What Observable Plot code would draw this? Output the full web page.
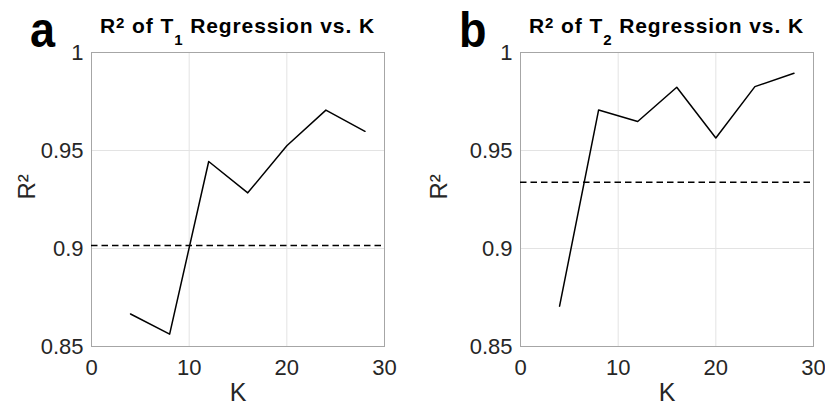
<!DOCTYPE html>
<html>
<head>
<meta charset="utf-8">
<script src="https://cdn.jsdelivr.net/npm/d3@7"></script>
<script src="https://cdn.jsdelivr.net/npm/@observablehq/plot@0.6"></script>
<style>
  html, body { margin: 0; padding: 0; background: #fff; }
  #wrap { position: relative; width: 825px; height: 407px; font-family: "Liberation Sans", Arial, sans-serif; color: #262626; }
  .panel { position: absolute; top: 0; width: 412px; height: 407px; }
  .header { position: relative; height: 40px; }
  .letter { position: absolute; top: 1px; font-size: 50px; font-weight: bold; color: #000; line-height: 58px; transform: scaleX(0.9); transform-origin: left; }
  .title { position: absolute; top: 15px; font-size: 21px; letter-spacing: 0.9px; font-weight: bold; color: #000; text-align: center; line-height: 21px; white-space: nowrap; }
  .title sup { font-size: 15px; vertical-align: 5px; line-height: 0; }
  .title sub { font-size: 15px; vertical-align: -12px; line-height: 0; }
  svg { display: block; }
</style>
</head>
<body>
<div id="wrap"></div>
<script>
// ---- data ----
const kValues = [4, 8, 12, 16, 20, 24, 28];
const r2T1 = [0.8666, 0.8563, 0.9444, 0.9284, 0.9524, 0.9706, 0.9598];
const r2T2 = [0.8706, 0.9707, 0.9648, 0.9823, 0.9564, 0.9826, 0.9894];
const baselineT1 = 0.9015;
const baselineT2 = 0.9338;
const xTicks = [0, 10, 20, 30];
const yTicks = [0.85, 0.9, 0.95, 1];
const xTickLabels = ["0", "10", "20", "30"];
const yTickLabels = ["0.85", "0.9", "0.95", "1"];
const xGrid = [10, 20];
const yGrid = [0.9, 0.95];
const panelLetters = ["a", "b"];
const panelSubs = ["1", "2"];

function makePanel(values, baseline, ml, mr) {
  const data = kValues.map((k, i) => ({k, r2: values[i]}));
  return Plot.plot({
    width: 412,
    height: 367,
    marginLeft: ml,
    marginRight: mr,
    marginTop: 12,
    marginBottom: 61,
    style: {fontFamily: "'Liberation Sans', Arial, sans-serif", color: "#262626", background: "transparent", overflow: "visible"},
    x: {domain: [0, 30]},
    y: {domain: [0.85, 1]},
    marks: [
      Plot.gridX(xGrid, {stroke: "#e3e3e3", strokeOpacity: 1}),
      Plot.gridY(yGrid, {stroke: "#e3e3e3", strokeOpacity: 1}),
      Plot.frame({stroke: "#a6a6a6"}),
      Plot.axisX({ticks: xTicks, tickFormat: (d) => xTickLabels[xTicks.indexOf(d)], tickSize: 0, tickPadding: 13, fontSize: 22, label: null}),
      Plot.axisY({ticks: yTicks, tickFormat: (d) => yTickLabels[yTicks.indexOf(d)], tickSize: 0, tickPadding: 8, fontSize: 22, label: null}),
      Plot.text(["K"], {frameAnchor: "bottom", dy: 54, lineAnchor: "bottom", fontSize: 25, fill: "#262626"}),
      Plot.text(["R²"], {frameAnchor: "left", dx: -(ml - 34), rotate: -90, lineAnchor: "bottom", fontSize: 24, fill: "#262626"}),
      Plot.ruleY([baseline], {stroke: "black", strokeWidth: 1.5, strokeDasharray: "6.5,4"}),
      Plot.line(data, {x: "k", y: "r2", stroke: "black", strokeWidth: 1.5})
    ]
  });
}

const wrap = document.getElementById("wrap");
const configs = [
  {left: 0, values: r2T1, baseline: baselineT1, ml: 91, mr: 28},
  {left: 412, values: r2T2, baseline: baselineT2, ml: 108, mr: 11}
];
configs.forEach((c, i) => {
  const panel = document.createElement("div");
  panel.className = "panel";
  panel.style.left = c.left + "px";
  const header = document.createElement("div");
  header.className = "header";
  const letter = document.createElement("div");
  letter.className = "letter";
  letter.style.left = (c.ml - 61) + "px";
  letter.textContent = panelLetters[i];
  const title = document.createElement("div");
  title.className = "title";
  title.style.left = c.ml + "px";
  title.style.width = (412 - c.ml - c.mr) + "px";
  title.innerHTML = "R<sup>2</sup> of T<sub>" + panelSubs[i] + "</sub> Regression vs. K";
  header.appendChild(letter);
  header.appendChild(title);
  panel.appendChild(header);
  panel.appendChild(makePanel(c.values, c.baseline, c.ml, c.mr));
  wrap.appendChild(panel);
});
</script>
</body>
</html>
